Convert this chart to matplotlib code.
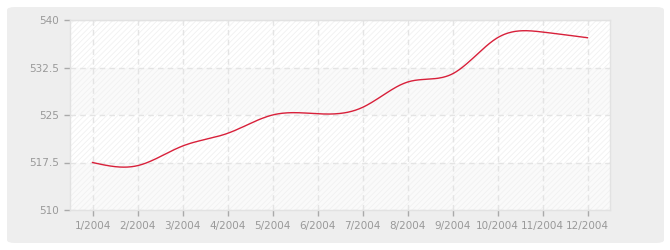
import numpy as np
import matplotlib
matplotlib.use("Agg")
import matplotlib.pyplot as plt
from matplotlib.patches import FancyBboxPatch

# data
months = ["1/2004", "2/2004", "3/2004", "4/2004", "5/2004", "6/2004",
          "7/2004", "8/2004", "9/2004", "10/2004", "11/2004", "12/2004"]
values = [517.5, 517.0, 520.1, 522.1, 525.0, 525.2,
          526.2, 530.2, 531.5, 537.2, 538.1, 537.2]
yticks = [510, 517.5, 525, 532.5, 540]
ytick_labels = ["510", "517.5", "525", "532.5", "540"]


def natural_spline(x, y, n=400):
    # plain natural cubic spline, only used to smooth the drawn line
    x = np.asarray(x, float)
    y = np.asarray(y, float)
    k = len(x)
    h = np.diff(x)
    A = np.zeros((k, k))
    b = np.zeros(k)
    A[0, 0] = A[-1, -1] = 1
    for i in range(1, k - 1):
        A[i, i - 1] = h[i - 1]
        A[i, i] = 2 * (h[i - 1] + h[i])
        A[i, i + 1] = h[i]
        b[i] = 6 * ((y[i + 1] - y[i]) / h[i] - (y[i] - y[i - 1]) / h[i - 1])
    M = np.linalg.solve(A, b)
    xs = np.linspace(x[0], x[-1], n)
    idx = np.clip(np.searchsorted(x, xs) - 1, 0, k - 2)
    x0, x1 = x[idx], x[idx + 1]
    hh = x1 - x0
    t0, t1 = x1 - xs, xs - x0
    ys = (M[idx] * t0 ** 3 / (6 * hh) + M[idx + 1] * t1 ** 3 / (6 * hh)
          + (y[idx] / hh - M[idx] * hh / 6) * t0
          + (y[idx + 1] / hh - M[idx + 1] * hh / 6) * t1)
    return xs, ys


plt.rcParams['hatch.linewidth'] = 0.6
plt.rcParams['font.family'] = ['DejaVu Sans']

fig = plt.figure(figsize=(6.7, 2.5), dpi=100)
fig.patch.set_facecolor("white")
bg = FancyBboxPatch((7 / 670, 7 / 250), 657 / 670, 236 / 250,
                    boxstyle="round,pad=0,rounding_size=0.012",
                    transform=fig.transFigure, facecolor="#eeeeee",
                    edgecolor="none", zorder=-10)
fig.patches.append(bg)

ax = fig.add_axes([70 / 670, 40 / 250, 540 / 670, 190 / 250])
ax.set_facecolor("white")

x = np.arange(len(months))
# alternating bands with a faint diagonal hatch
for i in range(len(yticks) - 1):
    fc = "#fafafa" if i % 2 == 0 else "white"
    ax.axhspan(yticks[i], yticks[i + 1], facecolor=fc, edgecolor="#f1f1f1",
               hatch="//////", linewidth=0, zorder=0)

xs, ys = natural_spline(x, values)
ax.plot(xs, ys, color="#d8203a", linewidth=1.0, zorder=3)

ax.set_xlim(-0.5, len(months) - 0.5)
ax.set_ylim(510, 540)
ax.set_xticks(x)
ax.set_xticklabels(months)
ax.set_yticks(yticks)
ax.set_yticklabels(ytick_labels)
ax.grid(True, color="#e4e4e4", linestyle=(0, (4, 3)), linewidth=1.0, zorder=1)
ax.set_axisbelow(True)

for s in ax.spines.values():
    s.set_color("#e2e2e2")
    s.set_linewidth(1.0)
ax.tick_params(colors="#999999", labelsize=7.5, length=4, width=1, pad=4)
ax.tick_params(axis="x", color="#aaaaaa")
ax.tick_params(axis="y", color="#aaaaaa")

fig.savefig("out.png", dpi=100)
